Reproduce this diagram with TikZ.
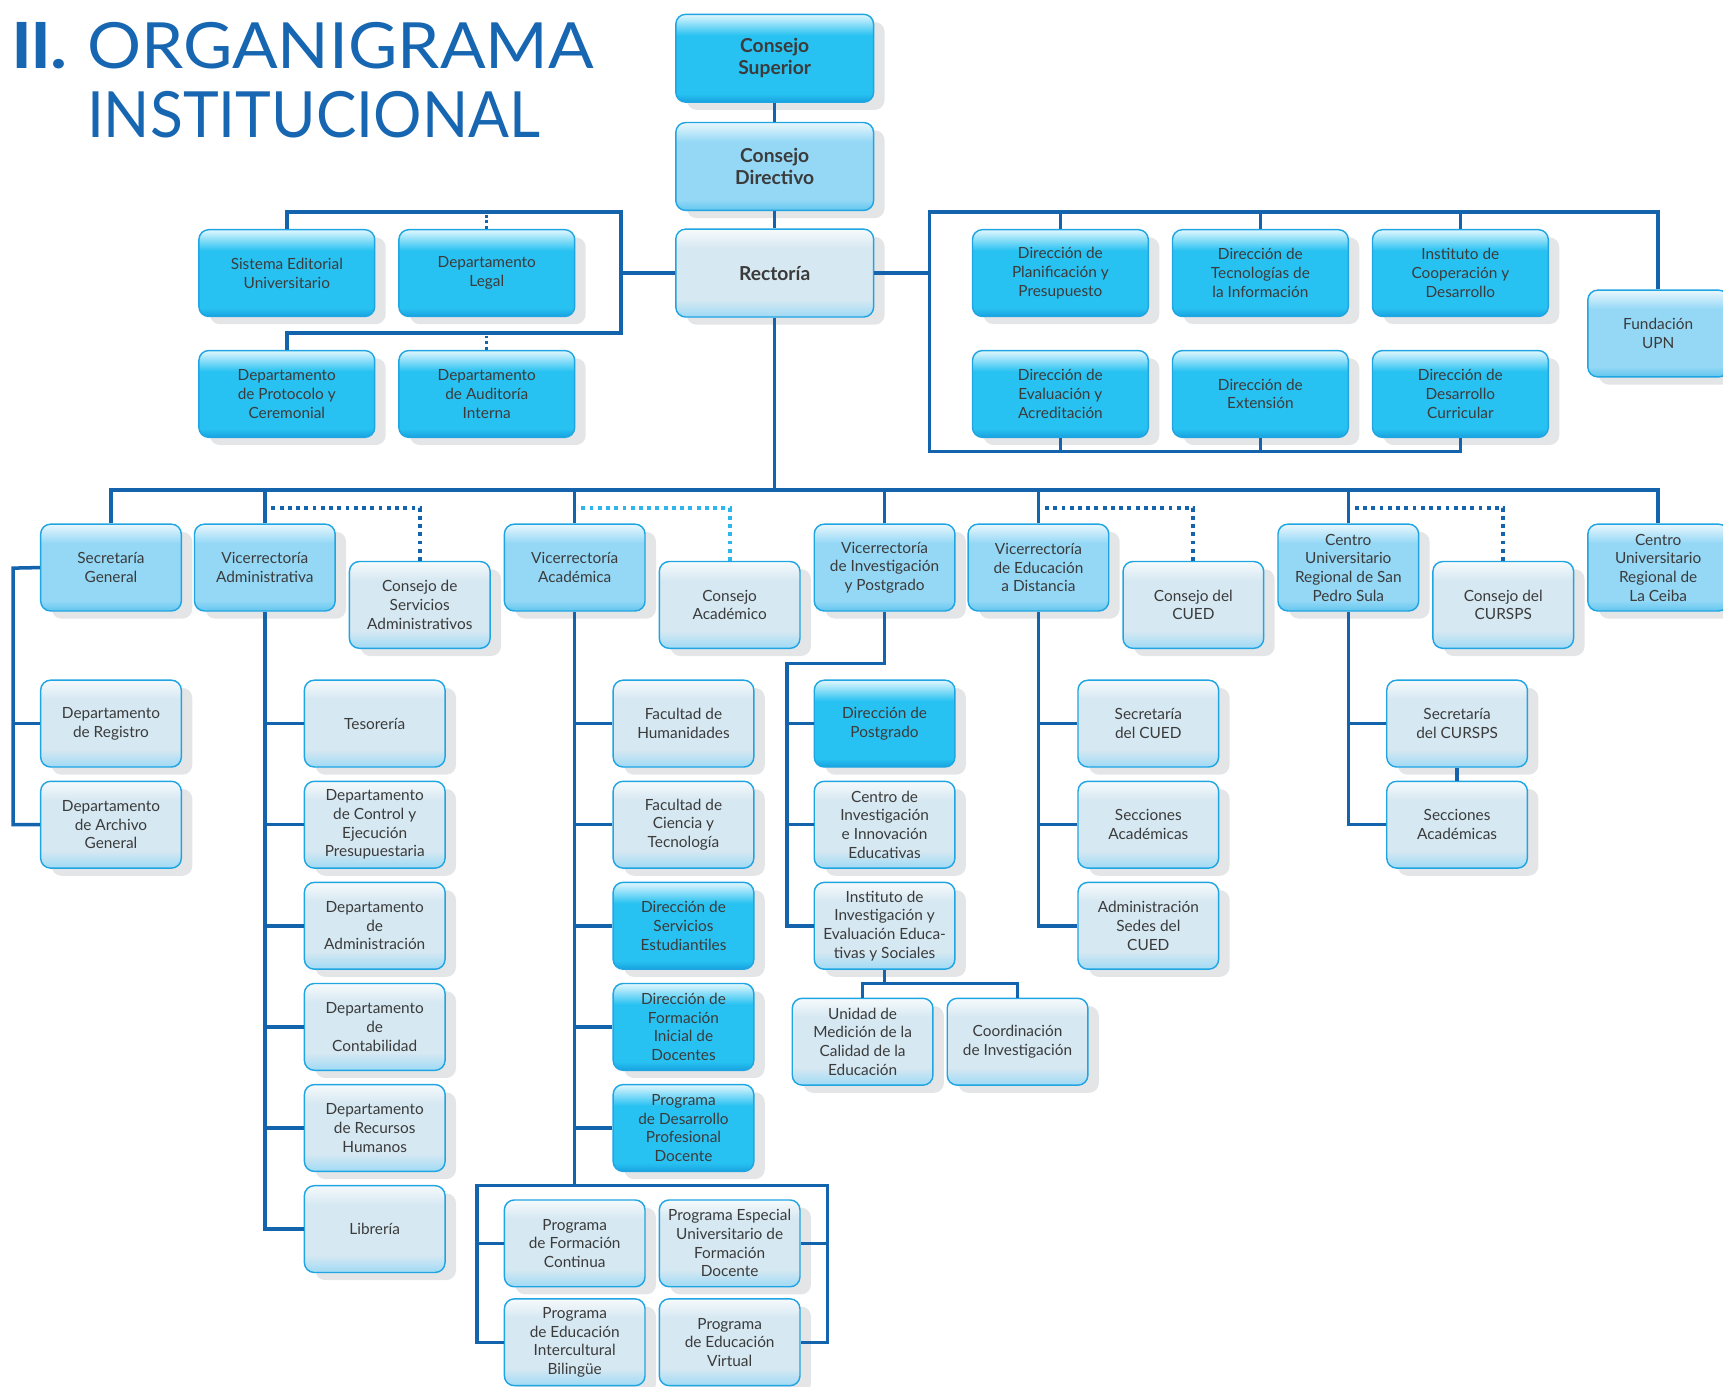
\documentclass[tikz,border=0pt]{standalone}
\usepackage{fontspec}
\setmainfont{Lato}
\newfontfamily\titlefont{Lato}
\usetikzlibrary{shadows}
\definecolor{dkmain}{HTML}{28C2F2}
\definecolor{dkbot}{HTML}{17A2DF}
\definecolor{dktop}{HTML}{E2F7FE}
\definecolor{mdmain}{HTML}{94D8F6}
\definecolor{mdbot}{HTML}{62C6EF}
\definecolor{mdtop}{HTML}{E9F7FD}
\definecolor{ltmain}{HTML}{D6E8F2}
\definecolor{ltbot}{HTML}{9FDAF5}
\definecolor{lttop}{HTML}{F6FAFC}
\definecolor{bdcol}{HTML}{1FA5E2}
\definecolor{shcol}{HTML}{E4E5E7}
\definecolor{lncol}{HTML}{1463AD}
\definecolor{cycol}{HTML}{2DB6EC}
\definecolor{ttcol}{HTML}{1766B1}
\definecolor{txcol}{HTML}{3B3B3B}
\pgfdeclareverticalshading{dksh}{100bp}{color(0bp)=(dkbot); color(25bp)=(dkbot); color(30bp)=(dkmain); color(63bp)=(dkmain); color(75bp)=(dktop); color(100bp)=(dktop)}
\pgfdeclareverticalshading{mdsh}{100bp}{color(0bp)=(mdbot); color(25bp)=(mdbot); color(31bp)=(mdmain); color(64bp)=(mdmain); color(75bp)=(mdtop); color(100bp)=(mdtop)}
\pgfdeclareverticalshading{ltsh}{100bp}{color(0bp)=(ltbot); color(25bp)=(ltbot); color(35bp)=(ltmain); color(64bp)=(ltmain); color(75bp)=(lttop); color(100bp)=(lttop)}
\begin{document}
\begin{tikzpicture}[x=1pt,y=-1pt,
  bx/.style={rounded corners=9pt, draw=bdcol, line width=1.3pt, align=center, text=txcol,
    font=\fontsize{14}{17}\selectfont, inner sep=2pt, minimum height=79pt,
    drop shadow={shadow xshift=10pt, shadow yshift=-7pt, fill=shcol, opacity=1}, shade},
  dk/.style={bx, shading=dksh},
  md/.style={bx, shading=mdsh},
  lt/.style={bx, shading=ltsh},
  wa/.style={minimum width=180pt, minimum height=80pt, font=\bfseries\fontsize{17.5}{20}\selectfont},
  wb/.style={minimum width=160pt},
  wc/.style={minimum width=128pt},
  ln/.style={draw=lncol, line width=3.2pt},
  dotl/.style={draw=lncol, line width=3.5pt, dash pattern=on 3.5pt off 4pt},
  dotc/.style={draw=cycol, line width=3.5pt, dash pattern=on 3.5pt off 4pt},
  dots/.style={draw=lncol, line width=2.6pt, dash pattern=on 2.6pt off 2.6pt},
  ttl/.style={anchor=base west, inner sep=0pt, text=ttcol}
]
\useasboundingbox (0,0) rectangle (1568,1262);

% title
\node[ttl, font=\bfseries\fontsize{58}{60}\selectfont] (t1) at (10,62) {\scalebox{1.12}[1]{I\kern-1.5ptI\kern-1pt.}};
\node[ttl, font=\titlefont\fontsize{58}{60}\selectfont] (t2) at (79,62) {\scalebox{1.06}[1]{ORGANIGRAMA}};
\node[ttl, font=\titlefont\fontsize{58}{60}\selectfont] (t3) at (79,125) {\scalebox{0.95}[1]{INSTITUCIONAL}};

% top column
\node[dk,wa] (cs) at (705,53) {Consejo\\Superior};
\node[md,wa] (cd) at (705,151.5) {Consejo\\Directivo};
\node[lt,wa] (rec) at (705,248.5) {Rectoría};

% left group
\node[dk,wb] (sis) at (261,248.5) {Sistema Editorial\\Universitario};
\node[dk,wb] (leg) at (443,248.5) {Departamento\\Legal};
\node[dk,wb] (pro) at (261,358.5) {Departamento\\de Protocolo y\\Ceremonial};
\node[dk,wb] (aud) at (443,358.5) {Departamento\\de Auditoría\\Interna};

% right group
\node[dk,wb] (pla) at (965,248.5) {Dirección de\\Planificación y\\Presupuesto};
\node[dk,wb] (tec) at (1147,248.5) {Dirección de\\Tecnologías de\\la Información};
\node[dk,wb] (coo) at (1329,248.5) {Instituto de\\Cooperación y\\Desarrollo};
\node[dk,wb] (eva) at (965,358.5) {Dirección de\\Evaluación y\\Acreditación};
\node[dk,wb] (ext) at (1147,358.5) {Dirección de\\Extensión};
\node[dk,wb] (dcu) at (1329,358.5) {Dirección de\\Desarrollo\\Curricular};
\node[md,wc] (fun) at (1509,303.5) {Fundación\\UPN};

% row 3
\node[md,wc] (sg) at (101,516.5) {Secretaría\\General};
\node[md,wc] (va) at (241,516.5) {Vicerrectoría\\Administrativa};
\node[lt,wc] (csa) at (382,550.5) {Consejo de\\Servicios\\Administrativos};
\node[md,wc] (vac) at (523,516.5) {Vicerrectoría\\Académica};
\node[lt,wc] (cac) at (664,550.5) {Consejo\\Académico};
\node[md,wc] (vi) at (805,516.5) {Vicerrectoría\\de Investigación\\y Postgrado};
\node[md,wc] (vd) at (945,516.5) {Vicerrectoría\\de Educación\\a Distancia};
\node[lt,wc] (ccu) at (1086,550.5) {Consejo del\\CUED};
\node[md,wc] (sps) at (1227,516.5) {Centro\\Universitario\\Regional de San\\Pedro Sula};
\node[lt,wc] (ccs) at (1368,550.5) {Consejo del\\CURSPS};
\node[md,wc] (lc) at (1509,516.5) {Centro\\Universitario\\Regional de\\La Ceiba};

% Secretaria General children
\node[lt,wc] (reg) at (101,658.5) {Departamento\\de Registro};
\node[lt,wc] (arc) at (101,750.5) {Departamento\\de Archivo\\General};

% Vicerrectoria Administrativa children
\node[lt,wc] (tes) at (341,658.5) {Tesorería};
\node[lt,wc] (dce) at (341,750.5) {Departamento\\de Control y\\Ejecución\\Presupuestaria};
\node[lt,wc] (dad) at (341,842.5) {Departamento\\de\\Administración};
\node[lt,wc] (dco) at (341,934.5) {Departamento\\de\\Contabilidad};
\node[lt,wc] (drh) at (341,1026.5) {Departamento\\de Recursos\\Humanos};
\node[lt,wc] (lib) at (341,1118.5) {Librería};

% Vicerrectoria Academica children
\node[lt,wc] (fhu) at (622,658.5) {Facultad de\\Humanidades};
\node[lt,wc] (fct) at (622,750.5) {Facultad de\\Ciencia y\\Tecnología};
\node[dk,wc] (dse) at (622,842.5) {Dirección de\\Servicios\\Estudiantiles};
\node[dk,wc] (dfi) at (622,934.5) {Dirección de\\Formación\\Inicial de\\Docentes};
\node[dk,wc] (pdp) at (622,1026.5) {Programa\\de Desarrollo\\Profesional\\Docente};
\node[lt,wc] (pfc) at (523,1131.5) {Programa\\de Formación\\Continua};
\node[lt,wc] (pes) at (664,1131.5) {Programa Especial\\Universitario de\\Formación\\Docente};
\node[lt,wc] (pei) at (523,1221.5) {Programa\\de Educación\\Intercultural\\Bilingüe};
\node[lt,wc] (pev) at (664,1221.5) {Programa\\de Educación\\Virtual};

% Vicerrectoria de Investigacion children
\node[dk,wc] (dpo) at (805,658.5) {Dirección de\\Postgrado};
\node[lt,wc] (cie) at (805,750.5) {Centro de\\Investigación\\e Innovación\\Educativas};
\node[lt,wc] (iie) at (805,842.5) {Instituto de\\Investigación y\\Evaluación Educa-\\tivas y Sociales};
\node[lt,wc] (umc) at (785,948) {Unidad de\\Medición de la\\Calidad de la\\Educación};
\node[lt,wc] (coi) at (926,948) {Coordinación\\de Investigación};

% Educacion a Distancia children
\node[lt,wc] (scu) at (1045,658.5) {Secretaría\\del CUED};
\node[lt,wc] (sac) at (1045,750.5) {Secciones\\Académicas};
\node[lt,wc] (asc) at (1045,842.5) {Administración\\Sedes del\\CUED};

% San Pedro Sula children
\node[lt,wc] (scs) at (1326,658.5) {Secretaría\\del CURSPS};
\node[lt,wc] (sas) at (1326,750.5) {Secciones\\Académicas};

% junction coordinates
\coordinate (ltop) at (565,193);
\coordinate (lbot) at (565,303);
\coordinate (rtop) at (846,193);
\coordinate (rbot) at (846,411);
\coordinate (mbar) at (705,446);
\coordinate (sgx) at (12,517);
\coordinate (pl) at (434,1079);
\coordinate (pr) at (753,1079);
\coordinate (ij) at (716,604);
\coordinate (ij2) at (805,895);
\coordinate (d1) at (247,462);
\coordinate (d2) at (529,462);
\coordinate (d3) at (951,462);
\coordinate (d4) at (1233,462);

% connectors: top column
\draw[ln] (cs.south) -- (cd.north);
\draw[ln] (cd.south) -- (rec.north);

% left group
\draw[ln] (rec.west) -- (rec.west -| ltop);
\draw[ln] (sis.north) |- (ltop) -- (lbot) -| (pro.north);
\draw[dots] (leg.north) -- (leg.north |- ltop);
\draw[dots] (aud.north) -- (aud.north |- lbot);

% right group
\draw[ln] (rec.east) -- (rec.east -| rtop);
\draw[ln] (fun.north) |- (rtop) -- (rbot) -| (dcu.south);
\draw[ln] (pla.north) -- (pla.north |- rtop);
\draw[ln] (tec.north) -- (tec.north |- rtop);
\draw[ln] (coo.north) -- (coo.north |- rtop);
\draw[ln] (eva.south) -- (eva.south |- rbot);
\draw[ln] (ext.south) -- (ext.south |- rbot);

% main bar
\draw[ln] (rec.south) -- (mbar);
\draw[ln] (sg.north) |- (mbar) -| (lc.north);
\draw[ln] (va.north) -- (va.north |- mbar);
\draw[ln] (vac.north) -- (vac.north |- mbar);
\draw[ln] (vi.north) -- (vi.north |- mbar);
\draw[ln] (vd.north) -- (vd.north |- mbar);
\draw[ln] (sps.north) -- (sps.north |- mbar);

% councils
\draw[dotl] (d1) -| (csa.north);
\draw[dotc] (d2) -| (cac.north);
\draw[dotl] (d3) -| (ccu.north);
\draw[dotl] (d4) -| (ccs.north);

% secretaria general
\draw[ln] (sg.west) -- (sgx) |- (arc.west);
\draw[ln] (reg.west) -- (reg.west -| sgx);

% vicerrectoria administrativa
\draw[ln] (va.south) |- (lib.west);
\foreach \n in {tes,dce,dad,dco,drh}{\draw[ln] (\n.west) -- (\n.west -| va.south);}

% vicerrectoria academica
\draw[ln] (vac.south) -- (vac.south |- pl);
\foreach \n in {fhu,fct,dse,dfi,pdp}{\draw[ln] (\n.west) -- (\n.west -| vac.south);}
\draw[ln] (pei.west) -| (pl) -- (pr) |- (pev.east);
\draw[ln] (pfc.west) -- (pfc.west -| pl);
\draw[ln] (pes.east) -- (pes.east -| pr);

% vicerrectoria de investigacion
\draw[ln] (vi.south) |- (ij) |- (iie.west);
\draw[ln] (dpo.west) -- (dpo.west -| ij);
\draw[ln] (cie.west) -- (cie.west -| ij);
\draw[ln] (iie.south) -- (ij2);
\draw[ln] (umc.north) |- (ij2) -| (coi.north);

% educacion a distancia
\draw[ln] (vd.south) |- (asc.west);
\draw[ln] (scu.west) -- (scu.west -| vd.south);
\draw[ln] (sac.west) -- (sac.west -| vd.south);

% san pedro sula
\draw[ln] (sps.south) |- (sas.west);
\draw[ln] (scs.west) -- (scs.west -| sps.south);
\draw[ln] (scs.south) -- (sas.north);
\end{tikzpicture}
\end{document}
